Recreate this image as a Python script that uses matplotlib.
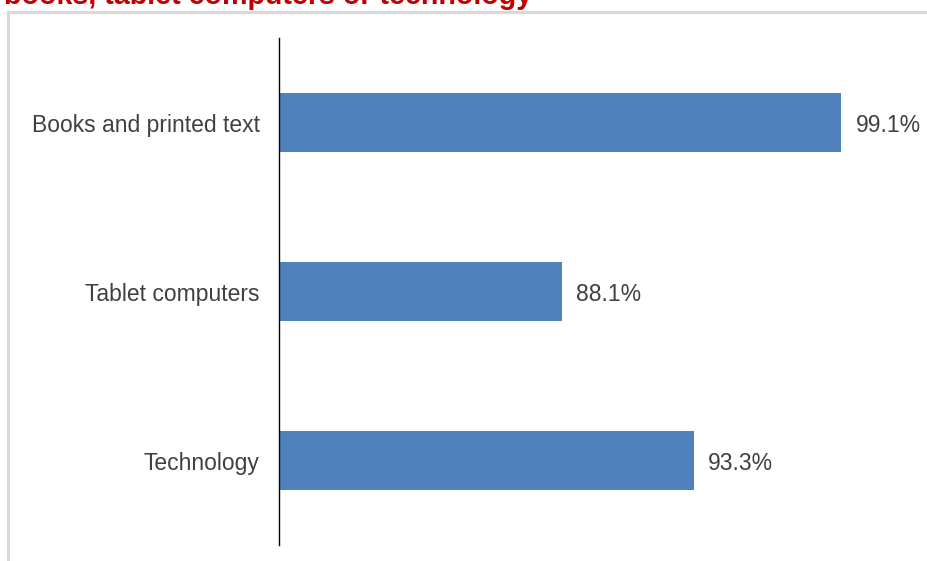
import matplotlib
matplotlib.use("Agg")
import matplotlib.pyplot as plt
from matplotlib.patches import Rectangle

# Data
categories = ["Books and printed text", "Tablet computers", "Technology"]
values = [99.1, 88.1, 93.3]
value_labels = ["99.1%", "88.1%", "93.3%"]
title = "books, tablet computers or technology"

plt.rcParams['font.family'] = ['Liberation Sans', 'DejaVu Sans']

W, H = 928, 561
fig = plt.figure(figsize=(W / 100, H / 100), dpi=100)

# light grey frame round the chart (runs off right and bottom)
fig.patches.append(Rectangle((8.5 / W, -0.1), 1.2, (H - 11.5) / H + 0.1,
                             transform=fig.transFigure, fill=False,
                             edgecolor='#d9d9d9', linewidth=2.2))

# red title, cut off at the top of the picture
fig.text(4 / W, 1 - 4 / H, title, color='#c00000', fontsize=20.6,
         fontweight='bold', ha='left', va='baseline')

ax = fig.add_axes([279 / W, 1 - 545 / H, (W - 279) / W, 507 / H])
y = list(range(len(categories)))
ax.barh(y, values, height=0.355, color='#4f81bd')
ax.set_xlim(77, 102.5)
ax.set_ylim(2.5, -0.5)

ax.set_yticks(y)
ax.set_yticklabels(categories, fontsize=16.5, color='#404040')
ax.tick_params(axis='y', length=0, pad=14)
ax.set_xticks([])
for s in ['top', 'right', 'bottom']:
    ax.spines[s].set_visible(False)
ax.spines['left'].set_color('black')
ax.spines['left'].set_linewidth(1.0)

for yi, v, lab in zip(y, values, value_labels):
    ax.annotate(lab, (v, yi), xytext=(14, -3), textcoords='offset pixels',
                va='center', ha='left', fontsize=16.5, color='#404040')

fig.savefig("out.png", dpi=100)
